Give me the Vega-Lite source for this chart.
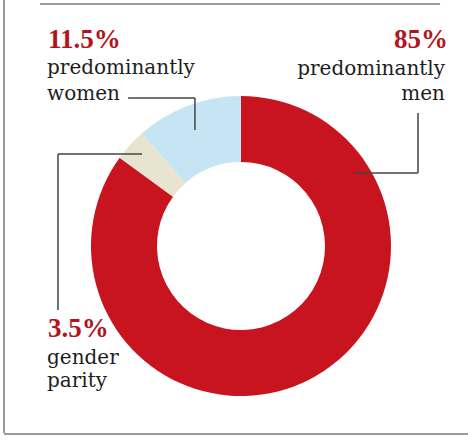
{
  "$schema": "https://vega.github.io/schema/vega-lite/v6.json",
  "width": 454,
  "height": 390,
  "autosize": "none",
  "padding": {"left": 14, "top": 51, "right": 0, "bottom": 0},
  "background": "white",
  "config": {"view": {"stroke": null}},
  "layer": [
    {
      "data": {"values": [
        {"group": "predominantly men", "share": 85, "rank": 1},
        {"group": "gender parity", "share": 3.5, "rank": 2},
        {"group": "predominantly women", "share": 11.5, "rank": 3}
      ]},
      "mark": {"type": "arc", "outerRadius": 150, "innerRadius": 84},
      "encoding": {
        "theta": {"field": "share", "type": "quantitative", "stack": true},
        "order": {"field": "rank", "type": "quantitative"},
        "color": {"field": "group", "type": "nominal", "legend": null,
          "scale": {"domain": ["predominantly men", "gender parity", "predominantly women"], "range": ["#c8141e", "#e8e4cf", "#c6e5f4"]}}
      }
    },
    {
      "data": {"values": [
        {"seg": "women-h", "u": -0.753, "v": 0.987, "u2": -0.307, "v2": 0.987},
        {"seg": "women-v", "u": -0.307, "v": 0.987, "u2": -0.307, "v2": 0.773},
        {"seg": "men-v", "u": 1.18, "v": 0.887, "u2": 1.18, "v2": 0.487},
        {"seg": "men-h", "u": 0.76, "v": 0.487, "u2": 1.18, "v2": 0.487},
        {"seg": "parity-h", "u": -1.22, "v": 0.613, "u2": -0.66, "v2": 0.613},
        {"seg": "parity-v", "u": -1.22, "v": 0.613, "u2": -1.22, "v2": -0.427}
      ]},
      "mark": {"type": "rule", "color": "#444444", "strokeWidth": 1.5},
      "encoding": {
        "x": {"field": "u", "type": "quantitative", "scale": {"domain": [-1.5133, 1.5133]}, "axis": null},
        "y": {"field": "v", "type": "quantitative", "scale": {"domain": [-1.3, 1.3]}, "axis": null},
        "x2": {"field": "u2"},
        "y2": {"field": "v2"}
      }
    },
    {
      "data": {"values": [
        {"seg": "left", "u": -1.58, "v": 1.64, "u2": -1.58, "v2": -1.247},
        {"seg": "top", "u": -1.34, "v": 1.613, "u2": 1.327, "v2": 1.613},
        {"seg": "bottom", "u": -1.58, "v": -1.253, "u2": 1.513, "v2": -1.253}
      ]},
      "mark": {"type": "rule", "color": "#9a9a9a", "strokeWidth": 2},
      "encoding": {
        "x": {"field": "u", "type": "quantitative", "scale": {"domain": [-1.5133, 1.5133]}, "axis": null},
        "y": {"field": "v", "type": "quantitative", "scale": {"domain": [-1.3, 1.3]}, "axis": null},
        "x2": {"field": "u2"},
        "y2": {"field": "v2"}
      }
    },
    {
      "data": {"values": [
        {"text": "11.5%", "u": -1.287, "v": 1.32},
        {"text": "3.5%", "u": -1.287, "v": -0.607}
      ]},
      "mark": {"type": "text", "align": "left", "baseline": "alphabetic", "font": "Liberation Serif", "fontWeight": "bold", "fontSize": 27, "color": "#b3141c"},
      "encoding": {
        "x": {"field": "u", "type": "quantitative", "scale": {"domain": [-1.5133, 1.5133]}, "axis": null},
        "y": {"field": "v", "type": "quantitative", "scale": {"domain": [-1.3, 1.3]}, "axis": null},
        "text": {"field": "text"}
      }
    },
    {
      "data": {"values": [
        {"text": "85%", "u": 1.38, "v": 1.32}
      ]},
      "mark": {"type": "text", "align": "right", "baseline": "alphabetic", "font": "Liberation Serif", "fontWeight": "bold", "fontSize": 27, "color": "#b3141c"},
      "encoding": {
        "x": {"field": "u", "type": "quantitative", "scale": {"domain": [-1.5133, 1.5133]}, "axis": null},
        "y": {"field": "v", "type": "quantitative", "scale": {"domain": [-1.3, 1.3]}, "axis": null},
        "text": {"field": "text"}
      }
    },
    {
      "data": {"values": [
        {"text": "predominantly", "u": -1.293, "v": 1.147},
        {"text": "women", "u": -1.293, "v": 0.973},
        {"text": "gender", "u": -1.293, "v": -0.787},
        {"text": "parity", "u": -1.293, "v": -0.94}
      ]},
      "mark": {"type": "text", "align": "left", "baseline": "alphabetic", "font": "DejaVu Serif", "fontSize": 20, "color": "#1e1e1e"},
      "encoding": {
        "x": {"field": "u", "type": "quantitative", "scale": {"domain": [-1.5133, 1.5133]}, "axis": null},
        "y": {"field": "v", "type": "quantitative", "scale": {"domain": [-1.3, 1.3]}, "axis": null},
        "text": {"field": "text"}
      }
    },
    {
      "data": {"values": [
        {"text": "predominantly", "u": 1.36, "v": 1.14},
        {"text": "men", "u": 1.36, "v": 0.973}
      ]},
      "mark": {"type": "text", "align": "right", "baseline": "alphabetic", "font": "DejaVu Serif", "fontSize": 20, "color": "#1e1e1e"},
      "encoding": {
        "x": {"field": "u", "type": "quantitative", "scale": {"domain": [-1.5133, 1.5133]}, "axis": null},
        "y": {"field": "v", "type": "quantitative", "scale": {"domain": [-1.3, 1.3]}, "axis": null},
        "text": {"field": "text"}
      }
    }
  ]
}
